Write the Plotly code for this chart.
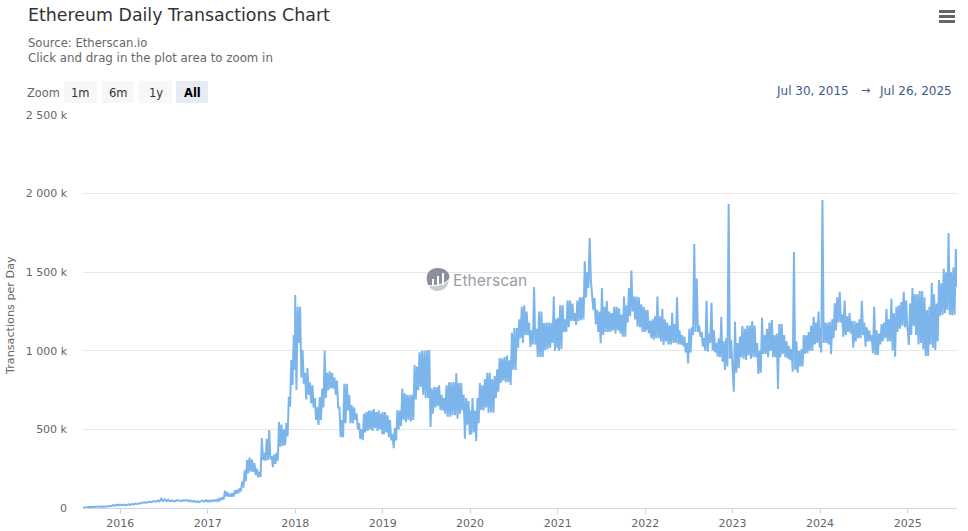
import pandas as pd
import plotly.graph_objects as go

# daily transactions in thousands
# the first stretch is a thin line, so one list per period is enough
tx_2015 = [2, 4, 5, 6, 7, 7, 8, 9, 7, 8, 9, 10, 8, 9, 11, 10, 12, 18, 14, 20, 17, 22]
tx_2016 = [20, 18, 22, 17, 20, 24, 20, 25, 22, 28, 26, 30, 33,
           35, 37, 34, 38, 40, 37, 42, 44, 40, 47, 42, 60, 45,
           55, 44, 52, 42, 48, 45, 42, 50, 46, 48, 44, 50, 46,
           52, 43, 48, 40, 46, 38, 44, 36, 42, 48, 40, 50, 42]

# later the values swing a lot from day to day: tops and bottoms of the band, about every 10 days
high_2017 = [50, 48, 50, 50, 55, 60, 70, 110, 102, 90, 95, 112, 115, 125, 170, 240, 305, 320,
             310, 285, 250, 230, 445, 350, 440, 496, 330, 340, 350, 547, 530, 500, 540, 708, 941, 1100]
low_2017 = [42, 42, 44, 44, 46, 50, 55, 75, 72, 72, 72, 90, 95, 105, 130, 170, 222, 232,
            230, 210, 195, 197, 305, 300, 305, 310, 260, 280, 300, 390, 395, 400, 455, 644, 782, 878]
high_2018 = [1355, 1280, 1280, 1005, 860, 890, 800, 780, 700, 640, 705, 760, 1000, 860, 870, 860, 830, 810,
             640, 560, 790, 790, 720, 655, 640, 600, 540, 500, 600, 610, 620, 620, 630, 610, 620, 600]
low_2018 = [750, 1050, 830, 790, 690, 720, 665, 640, 560, 528, 560, 640, 700, 750, 760, 760, 720, 640,
            450, 450, 540, 620, 540, 540, 560, 500, 440, 432, 480, 490, 500, 490, 510, 490, 500, 470]
high_2019 = [610, 610, 590, 560, 470, 510, 623, 620, 760, 730, 720, 720, 720, 910, 900, 990, 1000, 1000,
             1005, 1005, 760, 770, 770, 780, 720, 700, 780, 800, 800, 800, 858, 795, 795, 720, 700, 680]
low_2019 = [470, 480, 450, 430, 380, 430, 500, 520, 560, 547, 560, 550, 560, 690, 750, 770, 720, 700,
            700, 515, 600, 640, 650, 623, 620, 600, 580, 580, 590, 590, 570, 600, 620, 440, 530, 464]
high_2020 = [620, 700, 620, 700, 795, 780, 820, 860, 860, 820, 840, 880, 954, 950, 960, 970, 940, 1115,
             1145, 1145, 1200, 1280, 1290, 1250, 1180, 1130, 1405, 1140, 1250, 1250, 1177, 1180, 1180, 1177, 1345, 1200]
low_2020 = [470, 480, 426, 540, 623, 620, 640, 604, 610, 604, 700, 740, 795, 810, 800, 800, 782, 880,
            878, 1020, 1080, 1050, 1100, 1100, 1024, 1040, 1040, 960, 960, 960, 1005, 1010, 1020, 1050, 1000, 1020]
high_2021 = [1210, 1290, 1290, 1200, 1320, 1320, 1300, 1240, 1320, 1340, 1340, 1570, 1500, 1717, 1335, 1335, 1260, 1250,
             1400, 1280, 1317, 1250, 1240, 1280, 1280, 1270, 1230, 1345, 1290, 1400, 1510, 1345, 1345, 1340, 1296, 1280]
low_2021 = [1000, 1010, 1120, 1120, 1150, 1190, 1190, 1165, 1190, 1195, 1200, 1340, 1400, 1450, 1260, 1170, 1120, 1048,
            1100, 1120, 1120, 1120, 1130, 1110, 1130, 1110, 1090, 1090, 1180, 1220, 1250, 1200, 1153, 1150, 1120, 1120]
high_2022 = [1260, 1260, 1190, 1200, 1220, 1345, 1220, 1265, 1200, 1180, 1160, 1242, 1170, 1340, 1130, 1100, 1090, 1050,
             1140, 1150, 1680, 1460, 1160, 1120, 1080, 1319, 1110, 1306, 1130, 1050, 1080, 1217, 1060, 1080, 1934, 1070]
low_2022 = [1130, 1110, 1080, 1070, 1080, 1080, 1060, 1037, 1060, 1040, 1040, 1050, 1050, 1040, 1040, 1030, 990, 920,
            990, 1100, 1120, 1120, 1090, 1026, 1000, 995, 1050, 1000, 990, 963, 960, 930, 878, 900, 950, 880]
high_2023 = [950, 1185, 1050, 1090, 1157, 1140, 1160, 1160, 1190, 1160, 1050, 1000, 1210, 1100, 1140, 1180, 1196, 1100,
             1110, 1170, 1170, 1100, 1060, 1030, 1010, 1628, 1060, 1000, 1010, 1100, 1100, 1120, 1160, 1217, 1180, 1250]
low_2023 = [740, 860, 890, 960, 950, 941, 970, 950, 960, 960, 852, 860, 980, 980, 960, 1000, 960, 960,
            757, 960, 980, 960, 950, 940, 867, 880, 860, 900, 900, 980, 985, 1000, 1000, 1040, 1050, 1020]
high_2024 = [1140, 1960, 1180, 1180, 1185, 1200, 1303, 1340, 1376, 1230, 1320, 1220, 1240, 1190, 1190, 1180, 1200, 1318,
             1180, 1150, 1130, 1100, 1280, 1130, 1110, 1170, 1180, 1265, 1200, 1331, 1240, 1280, 1290, 1310, 1376, 1320]
low_2024 = [990, 1050, 1050, 1040, 978, 1080, 1130, 1180, 1180, 1090, 1100, 1120, 1110, 1020, 1060, 1080, 1080, 1100,
            1026, 1060, 1060, 985, 973, 973, 1040, 1060, 1080, 1060, 1060, 1000, 963, 1120, 1140, 1160, 1150, 1130]
high_2025 = [1150, 1300, 1400, 1360, 1360, 1380, 1380, 1340, 1260, 1280, 1433, 1360, 1300, 1450, 1430, 1522, 1500,
             1750, 1500, 1530, 1647]
low_2025 = [1037, 1100, 1160, 1100, 1040, 1050, 1010, 967, 967, 1040, 1020, 1005, 1060, 1221, 1230, 1240, 1260,
            1230, 1225, 1230, 1407]

# (first day, last day, tops, bottoms)
band_periods = [
    ("2017-01-01", "2017-12-31", high_2017, low_2017),
    ("2018-01-01", "2018-12-31", high_2018, low_2018),
    ("2019-01-01", "2019-12-31", high_2019, low_2019),
    ("2020-01-01", "2020-12-31", high_2020, low_2020),
    ("2021-01-01", "2021-12-31", high_2021, low_2021),
    ("2022-01-01", "2022-12-31", high_2022, low_2022),
    ("2023-01-01", "2023-12-31", high_2023, low_2023),
    ("2024-01-01", "2024-12-31", high_2024, low_2024),
    ("2025-01-01", "2025-07-26", high_2025, low_2025),
]

y_ticks = [0, 500, 1000, 1500, 2000, 2500]
y_tick_labels = ["0", "500 k", "1 000 k", "1 500 k", "2 000 k", "2 500 k"]
zoom_buttons = ["1m", "6m", "1y", "All"]

WIDTH, HEIGHT = 968, 531
LEFT, RIGHT, TOP, BOTTOM = 83, 957, 115, 508
FONT = "DejaVu Sans"


def px_x(x):
    return (x - LEFT) / (RIGHT - LEFT)


def px_y(y):
    return (BOTTOM - y) / (BOTTOM - TOP)


def label(text, x, y, color="#666666", size=11, anchor="left", angle=0):
    fig.add_annotation(text=text, x=px_x(x), y=px_y(y), xref="paper", yref="paper",
                       xanchor=anchor, yanchor="middle", showarrow=False, textangle=angle,
                       font=dict(family=FONT, size=size, color=color))


def box(x0, y0, x1, y1, color):
    fig.add_shape(type="rect", xref="paper", yref="paper", layer="above",
                  x0=px_x(x0), x1=px_x(x1), y0=px_y(y0), y1=px_y(y1),
                  fillcolor=color, line_width=0)


dates = list(pd.date_range("2015-07-30", "2015-12-31", periods=len(tx_2015)))
values = list(tx_2015)
dates += list(pd.date_range("2016-01-01", "2016-12-31", periods=len(tx_2016)))
values += tx_2016
for start, end, highs, lows in band_periods:
    dates += list(pd.date_range(start, end, periods=2 * len(highs)))
    for hi, lo in zip(highs, lows):
        values += [hi, lo]

fig = go.Figure()
fig.add_trace(go.Scatter(x=dates, y=values, mode="lines", hoverinfo="x+y",
                         line=dict(color="#7cb5ec", width=2)))

fig.update_layout(
    width=WIDTH, height=HEIGHT,
    margin=dict(l=LEFT, r=WIDTH - RIGHT, t=TOP, b=HEIGHT - BOTTOM),
    paper_bgcolor="white", plot_bgcolor="white",
    showlegend=False,
    title=dict(text="Ethereum Daily Transactions Chart", x=28 / WIDTH, xanchor="left",
               y=1 - 15 / HEIGHT, yanchor="middle",
               font=dict(family=FONT, size=17.4, color="#333333")),
)
fig.update_xaxes(range=["2015-07-30", "2025-07-26"], tick0="2016-01-01", dtick="M12", tickformat="%Y",
                 automargin=False, showgrid=False, showline=True, linecolor="#ccd6eb",
                 ticks="outside", ticklen=5, tickcolor="#ccd6eb",
                 tickfont=dict(family=FONT, size=11, color="#666666"))
fig.update_yaxes(range=[0, 2500], tickvals=y_ticks, ticktext=y_tick_labels, showgrid=True,
                 automargin=False, gridcolor="#e6e6e6", zeroline=False, ticklabelstandoff=15,
                 tickfont=dict(family=FONT, size=11, color="#666666"))

label("Source: Etherscan.io", 26, 43, size=11.6)
label("Click and drag in the plot area to zoom in", 26, 58, size=11.8)
label("Transactions per Day", 10, 316, size=11.2, angle=-90, anchor="center")
label("Zoom", 25, 93, size=11.4)

# range buttons
for name, x0, x1 in zip(zoom_buttons, [64, 102, 139, 176], [97, 134, 172, 208]):
    active = name == "All"
    box(x0, 81, x1, 103, "#e6ebf5" if active else "#f7f7f7")
    text = f"<b>{name}</b>" if active else name
    label(text, (x0 + x1) / 2, 93, color="#000000" if active else "#333333", size=11.5, anchor="center")

label("Jul 30, 2015", 774, 91, color="#3d5a8c", size=12)
label("→", 865, 91, color="#3d5a8c", anchor="center")
label("Jul 26, 2025", 877, 91, color="#3d5a8c", size=12)

# menu icon
for y in [10, 15, 20]:
    box(939, y, 955, y + 3, "#666666")

# watermark
fig.add_shape(type="path", xref="paper", yref="paper", layer="above", line_width=0, fillcolor="#8c909e",
              path=f"M {px_x(427.5)} {px_y(283)} C {px_x(424)} {px_y(270)} {px_x(434)} {px_y(268)} {px_x(438)} {px_y(268)} "
                   f"C {px_x(446)} {px_y(268)} {px_x(451)} {px_y(274)} {px_x(449)} {px_y(279)} "
                   f"Q {px_x(443)} {px_y(286)} {px_x(428)} {px_y(285)} Z")
fig.add_shape(type="path", xref="paper", yref="paper", layer="above", line_width=0, fillcolor="#c9cbd1",
              path=f"M {px_x(429)} {px_y(286)} Q {px_x(443)} {px_y(287)} {px_x(449)} {px_y(280)} "
                   f"Q {px_x(447)} {px_y(292)} {px_x(436)} {px_y(291)} Q {px_x(431)} {px_y(290)} {px_x(429)} {px_y(286)} Z")
for x0, y0 in [(432, 279), (437, 276), (442, 273)]:
    box(x0, y0, x0 + 2, 285, "white")
fig.add_annotation(text="Etherscan", x=px_x(451), y=px_y(280), xref="paper", yref="paper", xanchor="left",
                   yanchor="middle", showarrow=False, font=dict(family="Inter", size=15.7, color="#9a9da6"))

fig.write_html("out.html", config={"displayModeBar": False},
               post_script="document.body.style.margin='0'")
